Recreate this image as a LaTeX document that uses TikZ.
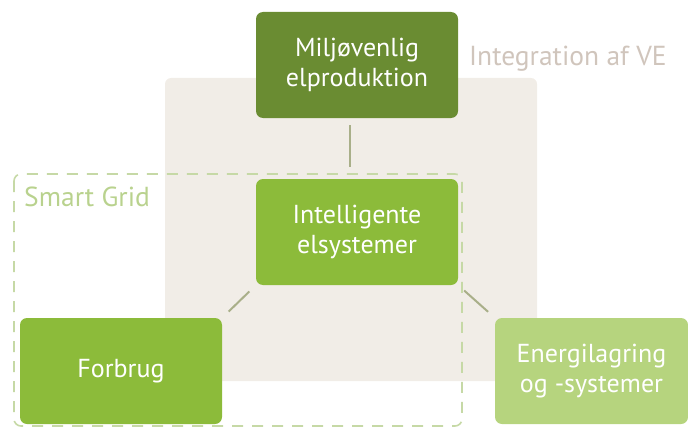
\documentclass[tikz,border=0pt]{standalone}
\usepackage{fontspec}
\setmainfont{PT Sans}
\definecolor{darkg}{HTML}{6A8C32}
\definecolor{midg}{HTML}{8CBB3A}
\definecolor{lightg}{HTML}{B6D47E}
\definecolor{beige}{HTML}{F1EDE7}
\definecolor{linec}{HTML}{A9AF89}
\definecolor{dashc}{HTML}{C6D9A6}
\definecolor{sgtext}{HTML}{B9D28E}
\definecolor{vetext}{HTML}{D0C5BC}
\tikzset{
  box/.style={rectangle, rounded corners=7pt, minimum width=202pt, minimum height=106pt,
    inner sep=0pt, align=center, text=white, font=\fontsize{26}{30}\selectfont},
  conn/.style={draw=linec, line width=2pt},
  grp/.style={text=#1, font=\fontsize{27.5}{30}\selectfont, inner sep=0pt, anchor=base west}
}
\begin{document}
\begin{tikzpicture}[x=1pt,y=-1pt]
\useasboundingbox (0,0) rectangle (688,428);
\fill[beige, rounded corners=6pt] (165,78) rectangle (537,381);
\draw[dashc, line width=1.6pt, dash pattern=on 11pt off 9pt, rounded corners=7pt] (14,174) rectangle (462,426);
\node[box, fill=darkg] (top) at (357,65) {Miljøvenlig\\elproduktion};
\node[box, fill=midg] (mid) at (357,232) {Intelligente\\elsystemer};
\node[box, fill=midg] (forb) at (121,371) {Forbrug};
\node[box, fill=lightg, minimum width=193pt] (energ) at (591.5,371) {Energilagring\\og -systemer};
\node[grp=vetext] (ve) at (469,66) {Integration af VE};
\node[grp=sgtext] (sg) at (24,206) {Smart Grid};
\draw[conn, shorten <=7pt, shorten >=12pt] ([xshift=-7pt]top.south) -- ([xshift=-7pt]mid.north);
\draw[conn, shorten <=9pt, shorten >=9pt] (mid.south west) -- (forb.north east);
\draw[conn, shorten <=8pt, shorten >=9pt] (mid.south east) -- (energ.north west);
\end{tikzpicture}
\end{document}
